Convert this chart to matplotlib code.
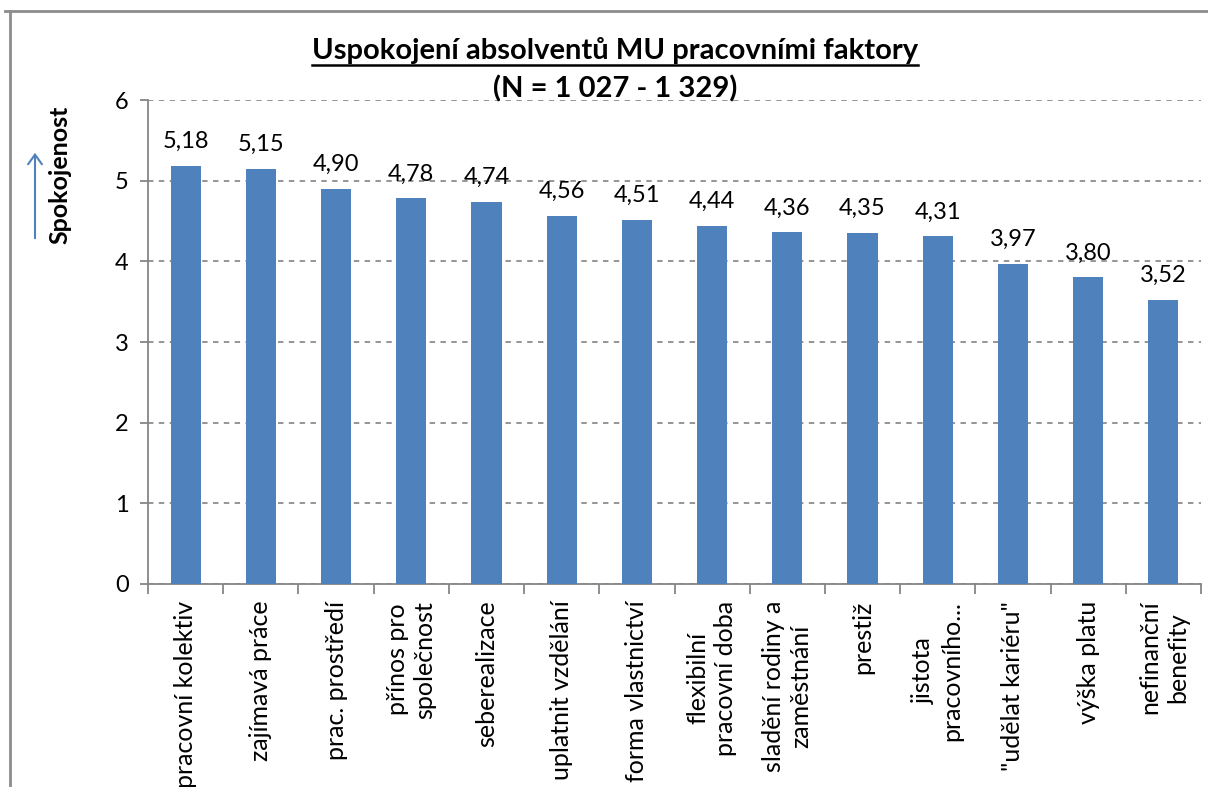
import matplotlib
matplotlib.use("Agg")
import matplotlib.pyplot as plt
from matplotlib.lines import Line2D
import numpy as np

categories = [
    "pracovní kolektiv", "zajímavá práce", "prac. prostředí", "přínos pro\nspolečnost",
    "seberealizace", "uplatnit vzdělání", "forma vlastnictví", "flexibilní\npracovní doba",
    "sladění rodiny a\nzaměstnání", "prestiž", "jistota\npracovního...", "\"udělat kariéru\"",
    "výška platu", "nefinanční\nbenefity",
]
values = [5.18, 5.15, 4.90, 4.78, 4.74, 4.56, 4.51, 4.44, 4.36, 4.35, 4.31, 3.97, 3.80, 3.52]
yticks = [0, 1, 2, 3, 4, 5, 6]

plt.rcParams['font.family'] = ['Lato', 'DejaVu Sans']

W, H = 1208, 787
fig = plt.figure(figsize=(W / 100, H / 100), dpi=100)
ax = fig.add_axes([148 / W, 1 - 584 / H, (1201 - 148) / W, (584 - 100) / H])

x = np.arange(len(values))
bars = ax.bar(x, values, width=0.4, color="#4F81BD", zorder=3)
for xi, v in zip(x, values):
    ax.annotate(f"{v:.2f}".replace(".", ","), (xi, v), xytext=(0, 10), textcoords="offset points",
                ha="center", va="bottom", fontsize=17, color="#000000")

ax.set_xlim(-0.5, len(values) - 0.5)
ax.set_ylim(0, 6)
ax.set_yticks(yticks)
ax.set_yticklabels([str(t) for t in yticks], fontsize=17)
ax.yaxis.grid(True, linestyle=(0, (3, 3)), color="#8c8c8c", linewidth=1.3, zorder=0)
ax.tick_params(axis="y", direction="out", length=6, color="#868686", width=1.3, pad=8)

ax.set_xticks(np.arange(-0.5, len(values), 1.0))
ax.set_xticklabels([])
ax.tick_params(axis="x", which="major", direction="out", length=7, color="#868686", width=1.3)
ax.set_xticks(x, minor=True)
ax.set_xticklabels(categories, minor=True, rotation=90, fontsize=18, ha="center", va="top",
                   multialignment="center", linespacing=1.25)
ax.tick_params(axis="x", which="minor", length=0, pad=12)

for s in ["top", "right"]:
    ax.spines[s].set_visible(False)
for s in ["left", "bottom"]:
    ax.spines[s].set_color("#868686")
    ax.spines[s].set_linewidth(1.3)

# title
t1 = fig.text(615 / W, 1 - 50 / H, "Uspokojení absolventů MU pracovními faktory", ha="center", va="center",
              fontsize=21, fontweight="bold")
t2 = fig.text(615 / W, 1 - 89 / H, "(N = 1 027 - 1 329)", ha="center", va="center",
              fontsize=21, fontweight="bold")

fig.text(60 / W, 1 - 175 / H, "Spokojenost", rotation=90, ha="center", va="center",
         fontsize=18, fontweight="bold")
fig.add_artist(matplotlib.patches.FancyArrowPatch((35 / W, 1 - 241 / H), (35 / W, 1 - 150 / H),
                                                  transform=fig.transFigure, arrowstyle="->,head_length=7,head_width=5",
                                                  color="#4F81BD", linewidth=1.5, mutation_scale=1))

# frame
fig.add_artist(Line2D([5 / W, 1], [1 - 11 / H, 1 - 11 / H], transform=fig.transFigure, color="#8c8c8c", linewidth=2))
fig.add_artist(Line2D([10 / W, 10 / W], [0, 1 - 11 / H], transform=fig.transFigure, color="#8c8c8c", linewidth=2))

fig.canvas.draw()
r = fig.canvas.get_renderer()
bb = t1.get_window_extent(r)
yb = bb.y0 - 1
fig.add_artist(Line2D([bb.x0 / W, bb.x1 / W], [yb / H, yb / H], transform=fig.transFigure, color="black", linewidth=1.8))

fig.savefig("out.png", dpi=100)
